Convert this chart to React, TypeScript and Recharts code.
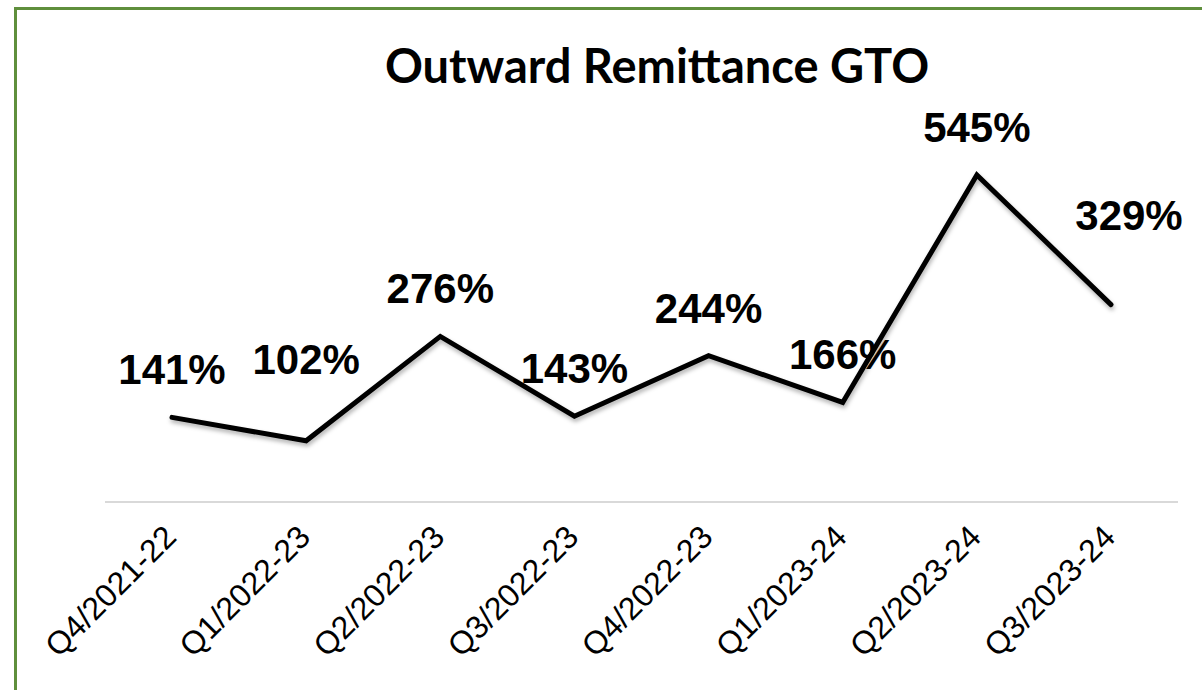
import { LineChart, Line, XAxis, YAxis, LabelList } from "recharts";

const quarters = [
  "Q4/2021-22",
  "Q1/2022-23",
  "Q2/2022-23",
  "Q3/2022-23",
  "Q4/2022-23",
  "Q1/2023-24",
  "Q2/2023-24",
  "Q3/2023-24",
];
const gtoGrowth = [141, 102, 276, 143, 244, 166, 545, 329];

// manual label nudges (dx, dy) as placed in the original chart
const labelNudge: [number, number][] = [
  [0, 0],
  [0, -34],
  [0, 0],
  [0, 0],
  [0, 0],
  [0, 0],
  [0, 0],
  [18, -42],
];

const data = quarters.map((quarter, i) => ({ quarter, gto: gtoGrowth[i] }));

function QuarterTick({ x, y, payload }: any) {
  const ax = x + 6;
  const ay = y + 29;
  return (
    <text
      x={ax}
      y={ay}
      transform={`rotate(-45 ${ax} ${ay})`}
      textAnchor="end"
      fontFamily="'Liberation Sans', Arial, sans-serif"
      fontSize={32}
      fill="#000"
    >
      {payload.value}
    </text>
  );
}

function PercentLabel({ x, y, value, index }: any) {
  const [dx, dy] = labelNudge[index] ?? [0, 0];
  return (
    <text
      x={x + dx}
      y={y - 33 + dy}
      textAnchor="middle"
      fontFamily="'Liberation Sans', Arial, sans-serif"
      fontWeight="bold"
      fontSize={42}
      fill="#000"
    >
      {value}%
    </text>
  );
}

export default function App() {
  return (
    <div style={{ position: "relative", width: 1202, height: 690, overflow: "hidden", background: "#fff" }}>
      <style>{`
        body { margin: 0; }
        .gto-line .recharts-line-curve { filter: drop-shadow(1px 3px 2px rgba(0,0,0,0.3)); }
      `}</style>
      <div
        style={{
          position: "absolute",
          left: 14,
          top: 7,
          width: 1300,
          height: 800,
          border: "3px solid #5f8f3c",
          boxSizing: "border-box",
        }}
      />
      <div
        style={{
          position: "absolute",
          left: 0,
          width: 1314,
          top: 32,
          textAlign: "center",
          fontFamily: "Lato, 'Open Sans', sans-serif",
          fontWeight: 700,
          fontSize: 47,
          color: "#000",
          lineHeight: "66px",
        }}
      >
        Outward Remittance GTO
      </div>
      <div style={{ position: "absolute", left: 0, top: 0 }}>
        <LineChart
          width={1202}
          height={690}
          data={data}
          margin={{ top: 142, right: 24, left: 105, bottom: 38 }}
        >
          <XAxis
            dataKey="quarter"
            interval={0}
            height={150}
            tickLine={false}
            axisLine={{ stroke: "#d9d9d9", strokeWidth: 2 }}
            padding={{ left: 67, right: 67 }}
            tick={<QuarterTick />}
          />
          <YAxis hide domain={[0, 600]} width={0} />
          <Line
            className="gto-line"
            type="linear"
            dataKey="gto"
            stroke="#000"
            strokeWidth={5}
            strokeLinecap="round"
            strokeLinejoin="miter"
            dot={false}
            activeDot={false}
            isAnimationActive={false}
          >
            <LabelList dataKey="gto" content={<PercentLabel />} />
          </Line>
        </LineChart>
      </div>
    </div>
  );
}
